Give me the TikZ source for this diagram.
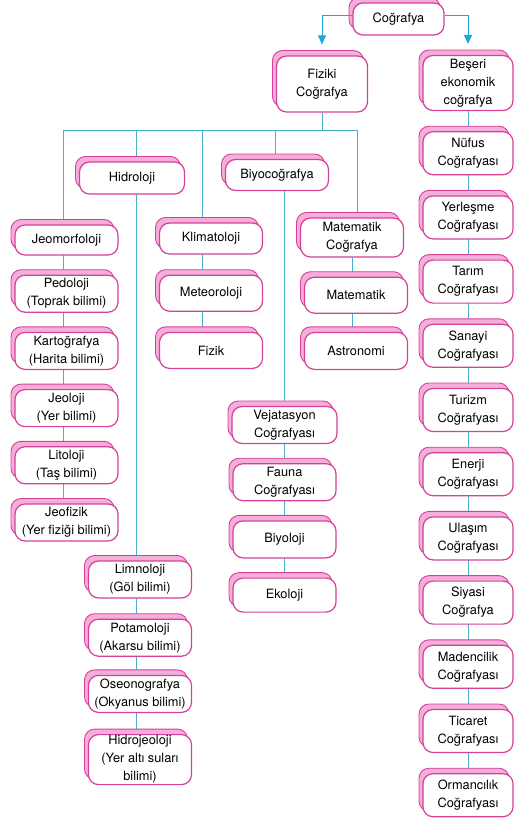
\documentclass[tikz,border=0pt]{standalone}
\usepackage{fontspec}
\setmainfont{TeX Gyre Heros}
\usepackage{tikz}
\usetikzlibrary{arrows.meta,positioning,shadows,backgrounds}
\definecolor{boxline}{RGB}{214,64,152}
\definecolor{boxpink}{RGB}{244,174,218}
\definecolor{linkcyan}{RGB}{72,176,204}
\definecolor{arrowblue}{RGB}{32,164,218}

\begin{document}
\begin{tikzpicture}[x=1pt, y=-1pt,
  >={Triangle[width=8pt,length=9pt]}, node distance=19pt,
  box/.style={draw=boxline, fill=white, line width=1.2pt, rounded corners=10pt,
              align=center, inner xsep=1pt, inner ysep=0pt,
              font=\fontsize{12.8}{18}\selectfont,
              copy shadow={shadow xshift=-4pt, shadow yshift=5.5pt, fill=boxpink,
                           draw=boxline, line width=0.9pt}},
  lbox/.style={box, minimum width=103pt, minimum height=37pt},
  sbox/.style={box, minimum width=103pt, minimum height=31pt},
  rbox/.style={box, minimum width=90pt, minimum height=43pt},
  link/.style={draw=linkcyan, line width=0.9pt},
  arr/.style={draw=arrowblue, line width=1pt, ->}]
\useasboundingbox (0,0) rectangle (531,819);
\node[box, minimum width=91pt, minimum height=32pt] (cog) at (398.5,19) {Coğrafya};
\node[box, minimum width=91pt, minimum height=56pt] (fiz) at (322,84) {Fiziki\\Coğrafya};
\node[box, minimum width=90pt, minimum height=55pt] (bes) at (468,83) {Beşeri\\ekonomik\\coğrafya};
\node[rbox, below=20pt of bes] (nuf) {Nüfus\\Coğrafyası};
\node[rbox, below=20pt of nuf] (yer) {Yerleşme\\Coğrafyası};
\node[rbox, below=20pt of yer] (tar) {Tarım\\Coğrafyası};
\node[rbox, below=20pt of tar] (san) {Sanayi\\Coğrafyası};
\node[rbox, below=20pt of san] (tur) {Turizm\\Coğrafyası};
\node[rbox, below=20pt of tur] (ene) {Enerji\\Coğrafyası};
\node[rbox, below=20pt of ene] (ula) {Ulaşım\\Coğrafyası};
\node[rbox, below=20pt of ula] (siy) {Siyasi\\Coğrafya};
\node[rbox, below=20pt of siy] (mad) {Madencilik\\Coğrafyası};
\node[rbox, below=20pt of mad] (tic) {Ticaret\\Coğrafyası};
\node[rbox, below=20pt of tic] (orm) {Ormancılık\\Coğrafyası};
\node[box, minimum width=105pt, minimum height=32pt] (hid) at (132,178) {Hidroloji};
\node[sbox] (biy) at (277,175) {Biyocoğrafya};
\node[sbox, minimum height=30pt] (jeom) at (66.5,240) {Jeomorfoloji};
\node[lbox, below=of jeom] (ped) {Pedoloji\\(Toprak bilimi)};
\node[lbox, below=of ped] (kar) {Kartoğrafya\\(Harita bilimi)};
\node[lbox, below=of kar] (jeol) {Jeoloji\\(Yer bilimi)};
\node[lbox, below=of jeol] (lit) {Litoloji\\(Taş bilimi)};
\node[lbox, below=of lit] (jeof) {Jeofizik\\(Yer fiziği bilimi)};
\node[sbox] (kli) at (211,238.5) {Klimatoloji};
\node[lbox, minimum height=36pt, below=20pt of kli] (met) {Meteoroloji};
\node[lbox, minimum height=36pt, below=20pt of met] (fzk) {Fizik};
\node[lbox, minimum height=39pt] (mco) at (352,237.5) {Matematik\\Coğrafya};
\node[lbox, minimum height=36pt, below=of mco, xshift=4pt] (mat) {Matematik};
\node[lbox, below=18pt of mat] (ast) {Astronomi};
\node[lbox, minimum width=105pt, minimum height=37pt] (vej) at (284.5,425) {Vejatasyon\\Coğrafyası};
\node[lbox, below=of vej] (fau) {Fauna\\Coğrafyası};
\node[lbox, below=of fau] (byl) {Biyoloji};
\node[lbox, minimum height=34pt, below=of byl] (eko) {Ekoloji};
\node[lbox] (lim) at (140,579.5) {Limnoloji\\(Göl bilimi)};
\node[lbox, below=20pt of lim] (pot) {Potamoloji\\(Akarsu bilimi)};
\node[lbox, below=18pt of pot] (ose) {Oseonografya\\(Okyanus bilimi)};
\node[lbox, minimum height=50pt, below=21pt of ose] (hjo) {Hidrojeoloji\\(Yer altı suları\\bilimi)};
\coordinate (dJeo) at (63,130);
\coordinate (dHid) at (136,130);
\coordinate (dKli) at (202,130);
\coordinate (dBiy) at (275,130);
\coordinate (dMat) at (357,130);
\begin{scope}[on background layer]
\draw[link] (fiz) -- (fiz |- dJeo);
\draw[link] (dJeo) -- (dMat);
\draw[link] (dJeo) -- (dJeo |- jeof);
\draw[link] (dHid) -- (dHid |- hjo);
\draw[link] (dKli) -- (dKli |- fzk);
\draw[link] (dBiy) -- (dBiy |- biy);
\draw[link] (vej |- biy) -- (vej |- eko);
\draw[link] (dMat) -- (dMat |- mco);
\draw[link] (mco) -- (mco |- ast);
\draw[link] (bes) -- (bes |- orm);
\end{scope}
\draw[arr] ([yshift=4pt]cog.west) -| ([yshift=11pt]fiz.north);
\draw[arr] ([yshift=4pt]cog.east) -| ([yshift=11pt]bes.north);
\end{tikzpicture}
\end{document}
